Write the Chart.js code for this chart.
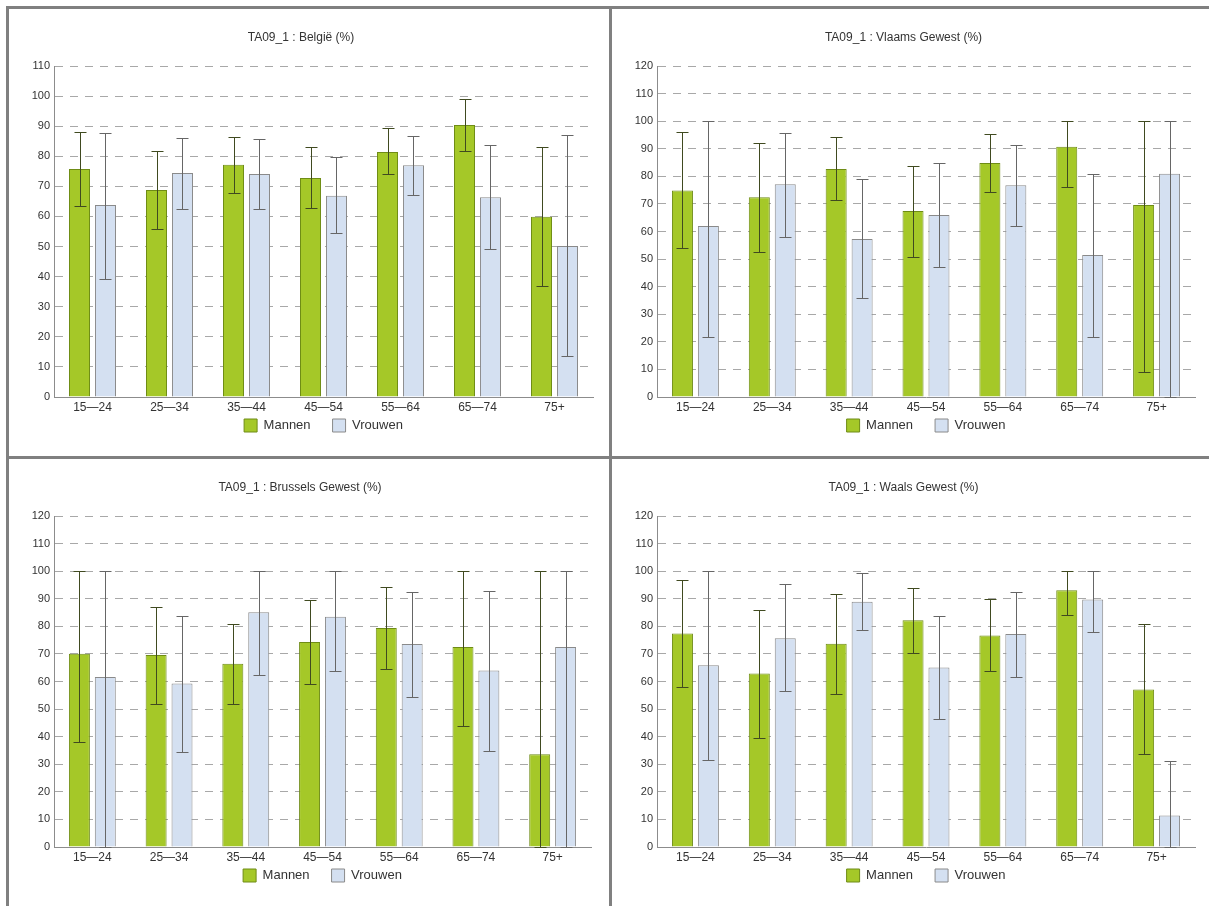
<!DOCTYPE html>
<html>
<head>
<meta charset="utf-8">
<script src="https://cdn.jsdelivr.net/npm/chart.js@4/dist/chart.umd.min.js"></script>
<style>
  body { margin: 0; background: #fff; width: 1209px; height: 906px; overflow: hidden; position: relative; }
  .line { position: absolute; background: #808080; }
  .panel { position: absolute; }
</style>
</head>
<body>
<div class="line" style="left:6px;top:6px;width:3px;height:900px"></div>
<div class="line" style="left:6px;top:6px;width:1203px;height:3px"></div>
<div class="line" style="left:609px;top:6px;width:3px;height:900px"></div>
<div class="line" style="left:6px;top:456px;width:1203px;height:3px"></div>

<div class="panel" style="left:9px;top:9px;width:600px;height:447px"><canvas id="belgie"></canvas></div>
<div class="panel" style="left:612px;top:9px;width:597px;height:447px"><canvas id="vlaams"></canvas></div>
<div class="panel" style="left:9px;top:459px;width:600px;height:447px"><canvas id="brussels"></canvas></div>
<div class="panel" style="left:612px;top:459px;width:597px;height:447px"><canvas id="waals"></canvas></div>

<script>
// Leeftijdsgroepen
var categories = ['15—24', '25—34', '35—44', '45—54', '55—64', '65—74', '75+']

// België
var belgieMannen    = [75.8, 68.8, 77.2, 72.8, 81.4, 90.4, 59.9]
var belgieMannenLo  = [63.4, 55.7, 67.7, 62.7, 74.1, 81.9, 36.9]
var belgieMannenHi  = [88.0, 81.8, 86.5, 83.0, 89.3, 99.0, 83.2]
var belgieVrouwen   = [63.8, 74.4, 74.1, 66.9, 77.0, 66.4, 50.2]
var belgieVrouwenLo = [39.3, 62.5, 62.5, 54.4, 67.1, 49.1, 13.6]
var belgieVrouwenHi = [87.6, 86.0, 85.6, 79.7, 86.7, 83.7, 87.0]

// Vlaams Gewest
var vlaamsMannen    = [74.9, 72.4, 82.7, 67.4, 84.8, 90.7, 69.6]
var vlaamsMannenLo  = [53.9, 52.7, 71.4, 50.6, 74.3, 76.1, 8.9]
var vlaamsMannenHi  = [96.0, 92.1, 94.1, 83.8, 95.3, 100, 100]
var vlaamsVrouwen   = [62.0, 77.1, 57.3, 66.0, 76.8, 51.5, 80.9]
var vlaamsVrouwenLo = [21.6, 57.9, 35.8, 47.0, 62.1, 21.9, 0]
var vlaamsVrouwenHi = [100, 95.6, 79.1, 84.9, 91.4, 80.9, 100]

// Brussels Gewest
var brusselsMannen    = [70.1, 69.6, 66.4, 74.3, 79.4, 72.5, 33.6]
var brusselsMannenLo  = [38.1, 52.0, 52.0, 59.2, 64.7, 44.0, 0]
var brusselsMannenHi  = [100, 87.0, 80.8, 89.5, 94.3, 100, 100]
var brusselsVrouwen   = [61.6, 59.3, 85.1, 83.5, 73.6, 64.0, 72.5]
var brusselsVrouwenLo = [0, 34.6, 62.4, 63.7, 54.5, 34.7, 0]
var brusselsVrouwenHi = [100, 83.7, 100, 100, 92.4, 92.7, 100]

// Waals Gewest
var waalsMannen    = [77.4, 62.9, 73.7, 82.2, 76.7, 93.1, 57.1]
var waalsMannenLo  = [58.1, 39.6, 55.3, 70.3, 63.9, 84.2, 33.6]
var waalsMannenHi  = [96.7, 85.9, 91.8, 94.0, 90.0, 100, 80.7]
var waalsVrouwen   = [65.9, 75.7, 88.9, 65.1, 77.2, 89.7, 11.4]
var waalsVrouwenLo = [31.6, 56.5, 78.6, 46.4, 61.8, 77.8, 0]
var waalsVrouwenHi = [100, 95.2, 99.3, 83.7, 92.4, 100, 31.2]

Chart.defaults.font.family = "'Liberation Sans', Arial, sans-serif"
Chart.defaults.color = '#333'

// Foutbalken tekenen via de y-schaal
var errorBars = {
  id: 'errorBars',
  afterDatasetsDraw: function(chart) {
    var ctx = chart.ctx
    var yScale = chart.scales.y
    ctx.save()
    ctx.lineWidth = 1
    chart.data.datasets.forEach(function(ds, i) {
      var meta = chart.getDatasetMeta(i)
      ctx.strokeStyle = ds.errColor
      meta.data.forEach(function(bar, j) {
        var x = Math.round(bar.x) + 0.5
        var top = Math.round(yScale.getPixelForValue(ds.errHi[j])) + 0.5
        var bottom = Math.round(yScale.getPixelForValue(ds.errLo[j])) + 0.5
        ctx.beginPath()
        ctx.moveTo(x, top)
        ctx.lineTo(x, bottom)
        ctx.moveTo(x - 6, top)
        ctx.lineTo(x + 6, top)
        ctx.moveTo(x - 6, bottom)
        ctx.lineTo(x + 6, bottom)
        ctx.stroke()
      })
    })
    ctx.restore()
  }
}

function makeChart(id, title, yMax, padRight, m, mLo, mHi, v, vLo, vHi) {
  return new Chart(document.getElementById(id), {
    type: 'bar',
    plugins: [errorBars],
    data: {
      labels: categories,
      datasets: [
        {
          label: 'Mannen',
          data: m,
          errLo: mLo,
          errHi: mHi,
          errColor: '#404a20',
          backgroundColor: '#a5c828',
          borderColor: '#6f8c16',
          borderWidth: 1,
          categoryPercentage: 0.675,
          barPercentage: 0.81
        },
        {
          label: 'Vrouwen',
          data: v,
          errLo: vLo,
          errHi: vHi,
          errColor: '#666',
          backgroundColor: '#d4e0f1',
          borderColor: '#8a8a8a',
          borderWidth: 1,
          categoryPercentage: 0.675,
          barPercentage: 0.81
        }
      ]
    },
    options: {
      responsive: true,
      maintainAspectRatio: false,
      animation: false,
      layout: {
        padding: { left: 0, right: padRight, top: 0, bottom: 14 }
      },
      plugins: {
        title: {
          display: true,
          text: title,
          color: '#333',
          font: { size: 12, weight: 'normal' },
          padding: { top: 21, bottom: 21.6 }
        },
        legend: {
          position: 'bottom',
          fullSize: false,
          labels: {
            boxWidth: 13,
            boxHeight: 13,
            padding: 22,
            color: '#333',
            font: { size: 13 }
          }
        },
        tooltip: { enabled: false }
      },
      scales: {
        x: {
          grid: { display: false, drawTicks: false },
          border: { display: true, color: '#8c8c8c' },
          // labels onder de as, zonder ruimte in te nemen (legenda schuift erover)
          ticks: { mirror: true, padding: -18.2, color: '#333', font: { size: 12 } },
          afterFit: function(scale) { scale.height = 0 }
        },
        y: {
          min: 0,
          max: yMax,
          grid: { color: '#a8a8a8', drawTicks: false },
          border: { display: true, color: '#8c8c8c', dash: [8, 7] },
          ticks: { stepSize: 10, padding: 4, color: '#333', font: { size: 11 } },
          afterFit: function(scale) { scale.width = 45 }
        }
      }
    }
  })
}

var belgieChart = makeChart('belgie', 'TA09_1 : België (%)', 110, 16,
  belgieMannen, belgieMannenLo, belgieMannenHi, belgieVrouwen, belgieVrouwenLo, belgieVrouwenHi)
var vlaamsChart = makeChart('vlaams', 'TA09_1 : Vlaams Gewest (%)', 120, 14,
  vlaamsMannen, vlaamsMannenLo, vlaamsMannenHi, vlaamsVrouwen, vlaamsVrouwenLo, vlaamsVrouwenHi)
var brusselsChart = makeChart('brussels', 'TA09_1 : Brussels Gewest (%)', 120, 18,
  brusselsMannen, brusselsMannenLo, brusselsMannenHi, brusselsVrouwen, brusselsVrouwenLo, brusselsVrouwenHi)
var waalsChart = makeChart('waals', 'TA09_1 : Waals Gewest (%)', 120, 14,
  waalsMannen, waalsMannenLo, waalsMannenHi, waalsVrouwen, waalsVrouwenLo, waalsVrouwenHi)
</script>
</body>
</html>
